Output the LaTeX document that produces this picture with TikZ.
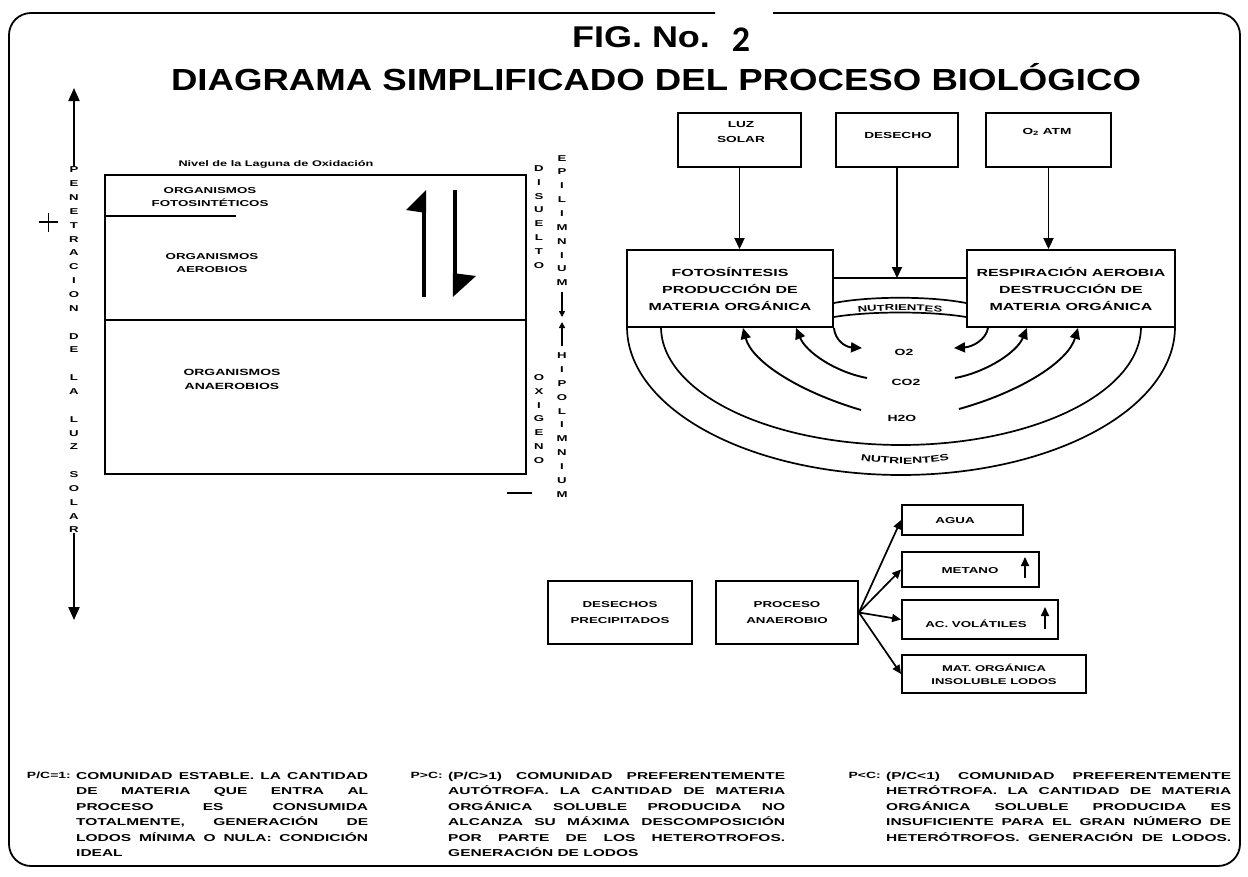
\documentclass[tikz,border=0pt]{standalone}
\usepackage{fontspec}
\usepackage{graphicx}
\setmainfont{Liberation Sans}
\newfontfamily\wf{Liberation Sans}[FakeStretch=1.55]
\newfontfamily\tf{Liberation Sans}[FakeStretch=1.2]
\newfontfamily\cf{Carlito}
\usetikzlibrary{arrows.meta,decorations.text}
\newcommand\myfs[2]{\fontsize{#1}{#2}\selectfont}
\newcommand\jline[2]{\makebox[#1][s]{#2}}
\begin{document}
\begin{tikzpicture}[x=1pt,y=-1pt,
  bx/.style={draw, line width=1.9pt, inner sep=0pt, align=center, font=\wf\bfseries\myfs{8.6}{16}},
  big/.style={bx, font=\wf\bfseries\myfs{10.3}{17}},
  lbl/.style={inner sep=0pt, align=center, font=\wf\bfseries\myfs{8.6}{13}},
  vt/.style={inner sep=0pt, align=center, font=\wf\bfseries\myfs{8.5}{13.85}},
  arr/.style={line width=1.9pt, -{Triangle[length=11pt,width=10pt]}},
  arrs/.style={line width=1.7pt, -{Triangle[length=9pt,width=8pt]}},
  bigarr/.style={line width=1.9pt, -{Triangle[length=13pt,width=11pt]}},
  tinyarr/.style={line width=1.7pt, -{Triangle[length=6pt,width=6pt]}},
  thk/.style={line width=1.7pt},
  para/.style={inner sep=0pt, anchor=north west, align=left, font=\wf\bfseries\myfs{10}{15.5}},
  plab/.style={inner sep=0pt, anchor=north east, font=\wf\bfseries\myfs{9}{10}}]
\useasboundingbox (0,0) rectangle (1248,876);
% border
\draw[line width=1.8pt, rounded corners=22pt] (715,13) -- (9,13) -- (9,866) -- (1240,866) -- (1240,13) -- (773,13);
% titles
\node[font=\tf\bfseries\myfs{30}{30}] (fig) at (641,37) {FIG. No.};
\node[font=\cf\bfseries\myfs{36}{36}] (num) at (741,40) {2};
\node[font=\tf\bfseries\myfs{30.5}{30}] (title) at (656,77) {DIAGRAMA SIMPLIFICADO DEL PROCESO BIOLÓGICO};

% ---------- left: lagoon ----------
\node[draw, line width=2.2pt, minimum width=421pt, minimum height=299pt, inner sep=0pt] (lag) at (315.5,324.5) {};
\draw[line width=2.2pt] (lag.west |- 0,320) -- (lag.east |- 0,320);
\draw[line width=2.2pt] (lag.west |- 0,216) -- (236,216);
\node[lbl, font=\wf\bfseries\myfs{8.2}{10}] (nivel) at (276,164) {Nivel de la Laguna de Oxidación};
\node[lbl] (fotos) at (210,197) {ORGANISMOS\\FOTOSINTÉTICOS};
\node[lbl] (aer) at (212,263.5) {ORGANISMOS\\AEROBIOS};
\node[lbl, font=\wf\bfseries\myfs{9}{14}] (ana) at (232,379) {ORGANISMOS\\ANAEROBIOS};
% harpoons
\draw[line width=4.5pt] (424,297) -- (424,200);
\fill (426.2,190) -- (406,210) -- (426.2,213) -- cycle;
\draw[line width=4.5pt] (455,190) -- (455,287);
\fill (452.8,297) -- (476,276) -- (452.8,273) -- cycle;
% vertical text columns
\node[vt] (pen) at (74,350) {P\\E\\N\\E\\T\\R\\A\\C\\I\\O\\N\\\mbox{}\\D\\E\\\mbox{}\\L\\A\\\mbox{}\\L\\U\\Z\\\mbox{}\\S\\O\\L\\A\\R};
\coordinate (pentop) at (74,88);
\coordinate (penbot) at (74,620);
\draw[bigarr] (pen.north) -- (pentop);
\draw[bigarr] (pen.south) -- (penbot);
\draw[line width=1.4pt] (39,222) -- (58,222) (48.5,212.5) -- (48.5,231.5);
\node[vt] (dis) at (539,217) {D\\I\\S\\U\\E\\L\\T\\O};
\node[vt] (epi) at (562,220.5) {E\\P\\I\\L\\I\\M\\N\\I\\U\\M};
\node[vt] (oxi) at (539,419) {O\\X\\I\\G\\E\\N\\O};
\node[vt] (hipo) at (562,425) {H\\I\\P\\O\\L\\I\\M\\N\\I\\U\\M};
\coordinate (epitip) at (562,317);
\coordinate (hipotip) at (562,322);
\draw[tinyarr, shorten <=6pt] (epi.south) -- (epitip);
\draw[tinyarr, shorten <=7pt] (hipo.north) -- (hipotip);
\draw[line width=1.7pt] (507,493) -- (532,493);

% ---------- right top: cycle ----------
\node[bx, minimum width=123pt, minimum height=54pt] (luz) at (739.5,140) {};
\node[lbl, font=\wf\bfseries\myfs{8.8}{15}] (luzt) at (741,132.5) {LUZ\\SOLAR};
\node[bx, minimum width=122pt, minimum height=54pt] (des) at (897,140) {};
\node[lbl, font=\wf\bfseries\myfs{8.8}{15}] (dest) at (898,135) {DESECHO};
\node[bx, minimum width=125pt, minimum height=54pt] (oat) at (1048.5,140) {};
\node[lbl, font=\wf\bfseries\myfs{8.8}{15}] (oatt) at (1047,132) {O\textsubscript{2} ATM};
\node[big, minimum width=206pt, minimum height=77pt] (foto) at (730,288.5) {FOTOSÍNTESIS\\PRODUCCIÓN DE\\MATERIA ORGÁNICA};
\node[big, minimum width=208pt, minimum height=77pt] (resp) at (1071,288.5) {RESPIRACIÓN AEROBIA\\DESTRUCCIÓN DE\\MATERIA ORGÁNICA};
\coordinate (jn) at (897,278);
\draw[thk] (foto.east |- jn) -- (resp.west |- jn);
\draw[arr] (luz.south) -- (luz.south |- foto.north);
\draw[arr] (des.south) -- (jn);
\draw[arr] (oat.south) -- (oat.south |- resp.north);
% nutrient band between boxes
\draw[thk] (foto.east |- 0,303) .. controls (870,296) and (930,296) .. (resp.west |- 0,303);
\draw[thk] (foto.east |- 0,317) .. controls (870,311) and (930,311) .. (resp.west |- 0,317);
\path[decorate, decoration={text along path, text align=center, text={|\wf\bfseries\myfs{8.5}{10}|NUTRIENTES}}] (845,315) .. controls (875,309) and (925,309) .. (955,315);
% big arcs
\draw[thk] plot[domain=180:360, samples=90, smooth] ({901+274*cos(\x)}, {327-148*sin(\x)});
\draw[thk] plot[domain=180:360, samples=90, smooth] ({901+240*cos(\x)}, {327-118*sin(\x)});
\path[decorate, decoration={text along path, text align=center, text={|\wf\bfseries\myfs{9}{10}|NUTRIENTES}}] (852,458) .. controls (884,466) and (926,466) .. (958,458);
% gases
\node[lbl, font=\wf\bfseries\myfs{9}{10}] (o2) at (904,352) {O2};
\node[lbl, font=\wf\bfseries\myfs{9}{10}] (co2) at (906,382) {CO2};
\node[lbl, font=\wf\bfseries\myfs{9}{10}] (h2o) at (902,418) {H2O};
\coordinate (h2l) at (861,410);
\coordinate (co2l) at (867,378);
\coordinate (co2r) at (955,378);
\coordinate (h2r) at (959,409);
\coordinate (o2lt) at (862,348);
\coordinate (o2rt) at (954,348);
\draw[arr] (h2l) .. controls (800,392) and (752,362) .. (foto.south -| 743,0);
\draw[arr] (co2l) .. controls (835,372) and (806,352) .. (foto.south -| 796,0);
\draw[arr] (co2r) .. controls (987,372) and (1017,352) .. (resp.south -| 1027,0);
\draw[arr] (h2r) .. controls (1020,392) and (1068,362) .. (resp.south -| 1078,0);
\draw[arr] (foto.south east) .. controls (835,340) and (845,347) .. (o2lt);
\draw[arr] (resp.south -| 988,0) .. controls (986,340) and (972,347) .. (o2rt);

% ---------- bottom: anaerobic ----------
\node[bx, minimum width=144pt, minimum height=63pt] (dprec) at (620,612.5) {DESECHOS\\PRECIPITADOS};
\node[bx, minimum width=142pt, minimum height=63pt] (proc) at (787,612.5) {PROCESO\\ANAEROBIO};
\node[bx, minimum width=121pt, minimum height=30pt] (agua) at (962.5,520) {};
\node[lbl] (aguat) at (955,521) {AGUA};
\node[bx, minimum width=137pt, minimum height=35pt] (met) at (970.5,569.5) {};
\node[lbl] (mett) at (970,571) {METANO};
\draw[arrs] (1025,578) -- (1025,557);
\node[bx, minimum width=156pt, minimum height=39pt] (acv) at (980,619.5) {};
\node[lbl] (acvt) at (976,624) {AC. VOLÁTILES};
\draw[arrs] (1045,629) -- (1045,607);
\node[bx, minimum width=184pt, minimum height=38pt, font=\wf\bfseries\myfs{8.4}{13}] (mat) at (994,674) {MAT. ORGÁNICA\\INSOLUBLE LODOS};
\draw[arrs] (proc.east) -- (agua.west);
\draw[arrs] (proc.east) -- (met.west);
\draw[arrs] (proc.east) -- (acv.west);
\draw[arrs] (proc.east) -- (mat.west);

% ---------- bottom texts ----------
\node[para] (p1) at (76,772) {\jline{292pt}{COMUNIDAD ESTABLE. LA CANTIDAD}\\
\jline{292pt}{DE MATERIA QUE ENTRA AL}\\
\jline{292pt}{PROCESO ES CONSUMIDA}\\
\jline{292pt}{TOTALMENTE, GENERACIÓN DE}\\
\jline{292pt}{LODOS MÍNIMA O NULA: CONDICIÓN}\\
IDEAL};
\node[plab] (l1) at ([xshift=-5pt]p1.north west) {P/C=1:};
\node[para] (p2) at (448,772) {\jline{337pt}{(P/C>1) COMUNIDAD PREFERENTEMENTE}\\
\jline{337pt}{AUTÓTROFA. LA CANTIDAD DE MATERIA}\\
\jline{337pt}{ORGÁNICA SOLUBLE PRODUCIDA NO}\\
\jline{337pt}{ALCANZA SU MÁXIMA DESCOMPOSICIÓN}\\
\jline{337pt}{POR PARTE DE LOS HETEROTROFOS.}\\
GENERACIÓN DE LODOS};
\node[plab] (l2) at ([xshift=-5pt]p2.north west) {P>C:};
\node[para] (p3) at (886,772) {\jline{345pt}{(P/C<1) COMUNIDAD PREFERENTEMENTE}\\
\jline{345pt}{HETRÓTROFA. LA CANTIDAD DE MATERIA}\\
\jline{345pt}{ORGÁNICA SOLUBLE PRODUCIDA ES}\\
\jline{345pt}{INSUFICIENTE PARA EL GRAN NÚMERO DE}\\
\jline{345pt}{HETERÓTROFOS. GENERACIÓN DE LODOS.}};
\node[plab] (l3) at ([xshift=-5pt]p3.north west) {P<C:};
\end{tikzpicture}
\end{document}
